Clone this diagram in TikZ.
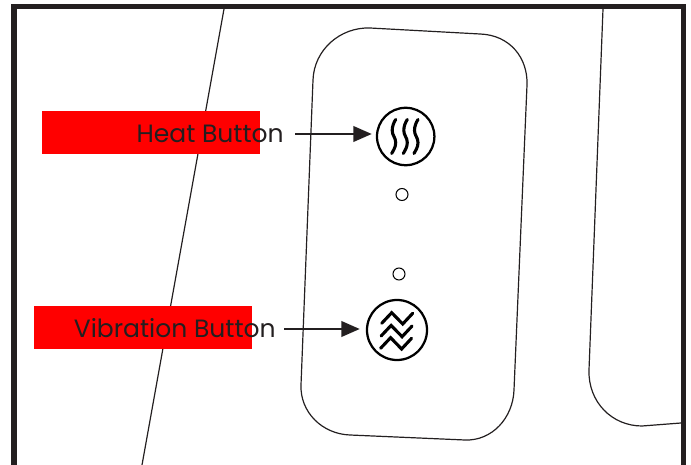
\documentclass[tikz,border=0pt]{standalone}
\usepackage{fontspec}
\setmainfont{Poppins}
\usetikzlibrary{arrows.meta}
\definecolor{ink}{HTML}{231F20}
\begin{document}
\begin{tikzpicture}[x=0.025cm, y=-0.025cm,
    outline/.style={line width=0.85pt, ink},
    redbox/.style={fill=red, draw=none, minimum width=5.45cm, minimum height=1.075cm, inner sep=0},
    label/.style={text=ink, font=\fontsize{17.8}{20}\selectfont, anchor=east, inner sep=0, text height=12.5pt, text depth=0pt},
    button/.style={circle, draw=black, line width=1.6pt, minimum size=1.435cm, inner sep=0},
    led/.style={circle, draw=black, line width=0.75pt, minimum size=0.3cm, inner sep=0},
    pointer/.style={-{Triangle[length=0.46cm, width=0.38cm]}, line width=2.1pt, ink},
    glyph/.style={line width=2.2pt, black, line cap=round, line join=miter}]

\useasboundingbox (0,0) rectangle (691,465);

\draw[outline] (224,9) -- (142,465);

\draw[outline] (370,28) -- (480,34) .. controls (510,35) and (528,58) .. (527,85)
    -- (514,390) .. controls (513,418) and (492,441) .. (465,440)
    -- (350,435) .. controls (322,434) and (300,412) .. (301,385)
    -- (313,80) .. controls (314,50) and (340,27) .. (370,28) -- cycle;

\draw[outline] (603,9) -- (589,370) .. controls (588,402) and (612,426) .. (642,426) -- (681,423);

\draw[ink, line width=4.25pt] (14,465) -- (14,6.5) -- (683.5,6.5) -- (683.5,465);

\node[redbox] at (151,132.5) (heatbox) {};
\node[redbox] at (143,327.5) (vibbox) {};

\node[label] at (284,134) (heatlabel) {Heat Button};
\node[label] at (276,329) (viblabel) {Vibration Button};

\node[button] at (405.7,136.5) (heatbtn) {};
\node[button, minimum size=1.5cm] at (397,330) (vibbtn) {};

\node[led] at (402,194.5) (heatled) {};
\node[led] at (399,274) (vibled) {};

\draw[pointer, shorten <=0.275cm, shorten >=0.1cm] (heatlabel.east) -- (heatlabel.east -| heatbtn.west);
\draw[pointer, shorten <=0.2cm, shorten >=0.15cm] (viblabel.east) -- (viblabel.east -| vibbtn.west);

\foreach \x in {-10,1.6,12.3} {
    \draw[glyph, shift={(405.7+\x,136.5)}] (0,-17) .. controls +(-2,3) and +(0,-4) .. (-3.5,-6)
        .. controls +(0,5) and +(0,-5) .. (0,6) .. controls +(0,5) and +(1.5,-3) .. (-4,17);
}

\foreach \y/\x in {0/0,12.7/-0.6,25/-1.1} {
    \draw[glyph, shift={(397+\x,330+\y)}] (-15.3,-6.7) -- ++(10,-10.6) -- ++(11,11.3) -- ++(10,-10.7);
}

\end{tikzpicture}
\end{document}
